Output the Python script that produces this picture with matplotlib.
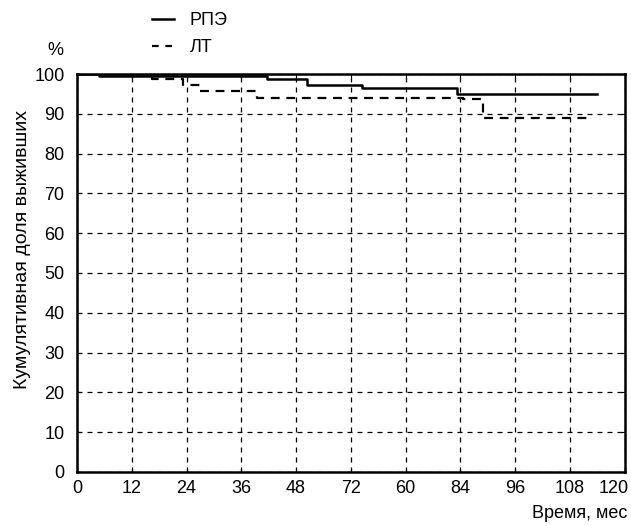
import matplotlib.pyplot as plt
from matplotlib.lines import Line2D
import matplotlib.transforms as mtransforms

plt.rcParams['font.family'] = ['Liberation Sans', 'DejaVu Sans']

# survival curves (months, %)
rpe_t = [0, 4.8, 41.6, 50.4, 62.4, 83.2, 114]
rpe_v = [100, 99.5, 98.7, 97.2, 96.6, 94.9, 94.9]
lt_t = [0, 16.4, 23.2, 27.0, 39.4, 84.5, 88.9, 113]
lt_v = [100, 98.7, 97.4, 95.7, 94.0, 93.8, 88.9, 88.9]

x_ticks = [0, 12, 24, 36, 48, 60, 72, 84, 96, 108, 120]
x_labels = ['0', '12', '24', '36', '48', '72', '60', '84', '96', '108', '120']
y_ticks = [0, 10, 20, 30, 40, 50, 60, 70, 80, 90, 100]

fig = plt.figure(figsize=(6.31, 5.26), dpi=100)
ax = fig.add_axes([0.122, 0.103, 0.868, 0.756])

ax.step(rpe_t, rpe_v, where='post', color='black', lw=1.8)
ax.step(lt_t, lt_v, where='post', color='black', lw=1.6, linestyle=(0, (4, 3)))

ax.set_xlim(0, 120)
ax.set_ylim(0, 100)
ax.set_xticks(x_ticks)
ax.set_xticklabels(x_labels)
ax.set_yticks(y_ticks)
ax.tick_params(direction='in', top=True, right=True, labelsize=13, length=3)
ax.tick_params(axis='y', pad=9)
ax.tick_params(axis='x', pad=6)
ax.grid(True, color='black', linestyle=(0, (4, 4)), lw=0.9)
for s in ax.spines.values():
    s.set_linewidth(1.8)

# last x label sits a little to the left so it fits in the picture
last = ax.get_xticklabels()[-1]
last.set_transform(last.get_transform() + mtransforms.ScaledTranslation(-11 / 100, 0, fig.dpi_scale_trans))

fig.text(0.035, 0.525, 'Кумулятивная доля выживших', rotation=90,
         ha='center', va='center', fontsize=14)
fig.text(0.994, 0.008, 'Время, мес', ha='right', va='bottom', fontsize=13)
fig.text(0.088, 0.888, '%', ha='center', va='bottom', fontsize=13)

handles = [Line2D([], [], color='black', lw=1.8),
           Line2D([], [], color='black', lw=1.6, linestyle=(0, (3, 3)))]
fig.legend(handles, ['РПЭ', 'ЛТ'], loc='upper left', bbox_to_anchor=(0.215, 1.008),
           frameon=False, fontsize=13, handlelength=1.2, handletextpad=0.9,
           labelspacing=0.55)

fig.savefig('out.png', dpi=100)
